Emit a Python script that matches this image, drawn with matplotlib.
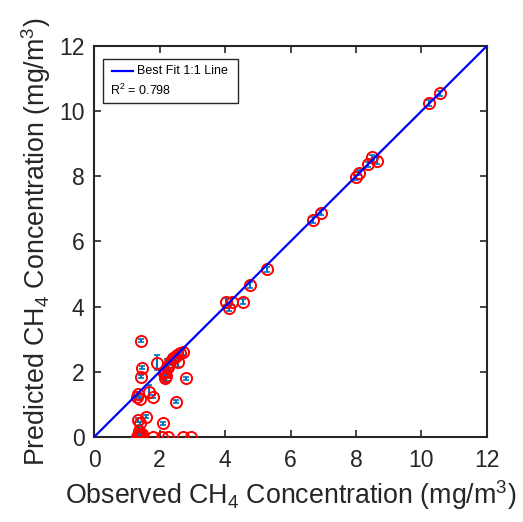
import numpy as np
import matplotlib
matplotlib.use('Agg')
import matplotlib.pyplot as plt
from matplotlib.patches import Rectangle

plt.rcParams['font.family'] = ['Liberation Sans', 'DejaVu Sans']
plt.rcParams['mathtext.fontset'] = 'custom'
plt.rcParams['mathtext.rm'] = 'Liberation Sans'

# observed, predicted, error (mg/m3)
observed = [10.56, 10.23, 8.63, 8.48, 8.38, 8.10, 8.00, 6.92, 6.68, 5.29, 4.76, 4.56, 4.20, 4.03, 4.13,
            1.43, 1.46, 1.43, 1.91, 1.35, 1.30, 1.40, 1.69, 1.81, 2.50, 2.81, 1.59, 1.40, 1.35, 2.10,
            1.33, 1.38, 1.42, 1.36, 1.30, 1.45,
            1.79, 2.07, 2.27, 2.73, 2.96,
            2.12, 2.17, 2.20, 2.22, 2.27, 2.32, 2.42, 2.52, 2.57, 2.63, 2.71, 2.15, 2.47]
predicted = [10.55, 10.25, 8.48, 8.58, 8.37, 8.11, 7.97, 6.88, 6.66, 5.14, 4.66, 4.15, 4.15, 4.15, 3.95,
             2.95, 2.13, 1.85, 2.28, 1.32, 1.24, 1.17, 1.39, 1.24, 1.08, 1.80, 0.62, 0.42, 0.52, 0.42,
             0.05, 0.10, 0.02, 0.18, 0.00, 0.08,
             0.0, 0.0, 0.0, 0.0, 0.0,
             1.95, 1.80, 1.88, 2.10, 2.16, 2.31, 2.41, 2.51, 2.31, 2.59, 2.62, 2.02, 2.45]
error = [0.08, 0.08, 0.1, 0.08, 0.08, 0.08, 0.08, 0.08, 0.08, 0.08, 0.1, 0.08, 0.1, 0.1, 0.1,
         0.05, 0.05, 0.05, 0.22, 0.05, 0.05, 0.05, 0.2, 0.05, 0.05, 0.05, 0.05, 0.05, 0.05, 0.05,
         0.12, 0.12, 0.1, 0.12, 0.1, 0.1,
         0.0, 0.0, 0.0, 0.0, 0.0,
         0.12, 0.12, 0.15, 0.3, 0.1, 0.1, 0.1, 0.1, 0.15, 0.1, 0.1, 0.1, 0.1]
r2 = 0.798
ticks = np.arange(0, 13, 2)

fig = plt.figure(figsize=(5.23, 5.22), dpi=100)
ax = fig.add_axes([0.180, 0.163, 0.751, 0.749])

dark = '#262626'
ax.errorbar(observed, predicted, yerr=error, fmt='none', ecolor='#0072BD',
            elinewidth=1.5, capsize=2, capthick=1.2, zorder=2)
ax.plot(observed, predicted, 'o', mfc='none', mec='red', ms=8, mew=1.4, zorder=3)
ax.plot([0, 12], [0, 12], color='blue', lw=1.6, zorder=4)

ax.set_xlim(0, 12)
ax.set_ylim(0, 12)
ax.set_xticks(ticks)
ax.set_yticks(ticks)
ax.tick_params(direction='in', length=5, width=1.2, top=True, right=True,
               labelsize=16.5, colors=dark)
ax.tick_params(axis='x', pad=9)
ax.tick_params(axis='y', pad=7)
for s in ax.spines.values():
    s.set_color(dark)
    s.set_linewidth(1.5)

ax.set_xlabel('Observed CH$_4$ Concentration (mg/m$^3$)', fontsize=19.3, color=dark, labelpad=4)
ax.set_ylabel('Predicted CH$_4$ Concentration (mg/m$^3$)', fontsize=19.3, color=dark, labelpad=4)

# legend box in MATLAB style
ax.add_patch(Rectangle((0.023, 0.855), 0.342, 0.112, transform=ax.transAxes,
                       fc='white', ec=dark, lw=1.0, zorder=5))
ax.plot([0.045, 0.100], [0.935, 0.935], transform=ax.transAxes, color='blue', lw=1.6, zorder=6)
ax.text(0.108, 0.935, 'Best Fit 1:1 Line', transform=ax.transAxes, fontsize=9,
        va='center', ha='left', zorder=6)
ax.text(0.040, 0.885, 'R$^2$ = %.3f' % r2, transform=ax.transAxes, fontsize=9,
        va='center', ha='left', zorder=6)

fig.savefig('out.png', dpi=100)
